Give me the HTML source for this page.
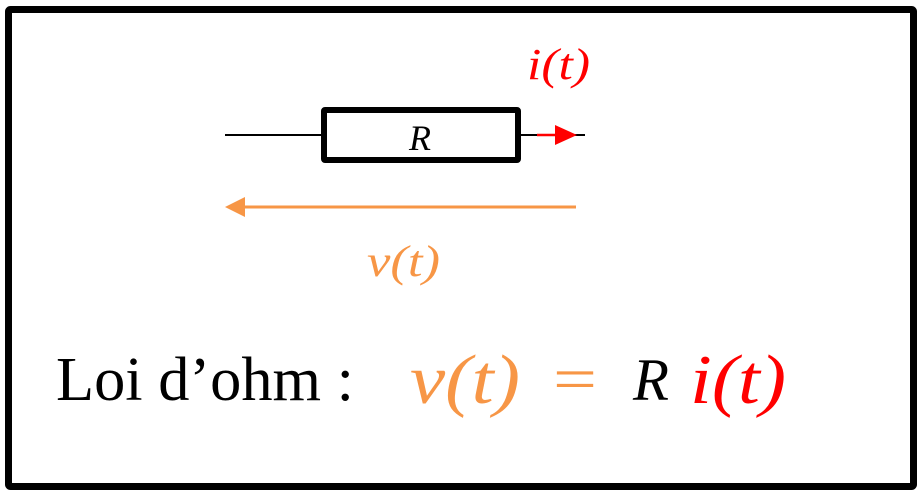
<!DOCTYPE html>
<html><head><meta charset="utf-8"><style>
html,body{margin:0;padding:0;background:#fff;}
svg{display:block}
</style></head><body>
<svg width="924" height="498" viewBox="0 0 924 498" xmlns="http://www.w3.org/2000/svg">
<rect x="8.5" y="9.5" width="905" height="477" fill="#fff" stroke="#000" stroke-width="7" rx="2"/>
<line x1="225" y1="135" x2="585" y2="135" stroke="#000" stroke-width="2"/>
<rect x="324" y="110" width="194" height="50" fill="#fff" stroke="#000" stroke-width="6" rx="1"/>
<text x="420" y="150" font-family="Liberation Serif, serif" font-style="italic" font-size="36" text-anchor="middle" fill="#000">R</text>
<line x1="537" y1="135" x2="560" y2="135" stroke="#f00" stroke-width="2.5"/>
<polygon points="555,125 577,135 555,145" fill="#f00"/>
<text x="527" y="79" font-family="Liberation Serif, serif" font-style="italic" font-size="44" textLength="63" lengthAdjust="spacingAndGlyphs" fill="#f00">i(t)</text>
<line x1="576" y1="207" x2="240" y2="207" stroke="#f79646" stroke-width="3"/>
<polygon points="225,207 245,197 245,217" fill="#f79646"/>
<text x="367" y="276" font-family="Liberation Serif, serif" font-style="italic" font-size="44" textLength="73" lengthAdjust="spacingAndGlyphs" fill="#f79646">v(t)</text>
<text x="56" y="400" font-family="Liberation Serif, serif" font-size="62" textLength="298" lengthAdjust="spacingAndGlyphs" fill="#000">Loi d’ohm :</text>
<text x="410" y="403" font-family="Liberation Serif, serif" font-style="italic" font-size="70" textLength="110" lengthAdjust="spacingAndGlyphs" fill="#f79646">v(t)</text>
<text x="553" y="400" font-family="Liberation Serif, serif" font-size="62" textLength="44" lengthAdjust="spacingAndGlyphs" fill="#f79646">=</text>
<text x="633" y="400" font-family="Liberation Serif, serif" font-style="italic" font-size="60" textLength="36" lengthAdjust="spacingAndGlyphs" fill="#000">R</text>
<text x="690" y="403" font-family="Liberation Serif, serif" font-style="italic" font-size="70" textLength="96" lengthAdjust="spacingAndGlyphs" fill="#f00">i(t)</text>
</svg>
</body></html>
